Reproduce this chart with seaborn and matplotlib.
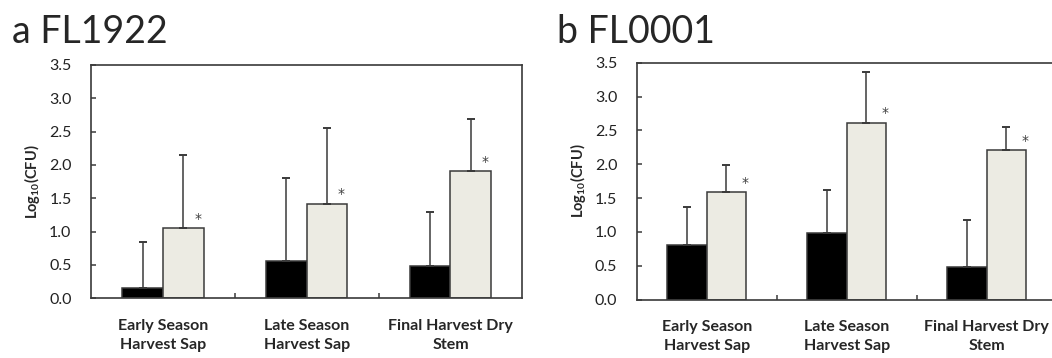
import pandas as pd
import matplotlib
matplotlib.use('Agg')
import matplotlib.pyplot as plt
import seaborn as sns
from matplotlib.ticker import FormatStrFormatter, FixedLocator

# categories and groups
categories = ['Early Season\nHarvest Sap', 'Late Season\nHarvest Sap', 'Final Harvest Dry\nStem']
groups = ['Control', 'Inoculated']

# panel a: FL1922
a_control = [0.15, 0.56, 0.49]
a_control_err = [0.69, 1.24, 0.80]
a_inoc = [1.05, 1.42, 1.91]
a_inoc_err = [1.10, 1.14, 0.78]

# panel b: FL0001
b_control = [0.80, 0.99, 0.48]
b_control_err = [0.57, 0.63, 0.69]
b_inoc = [1.59, 2.61, 2.21]
b_inoc_err = [0.40, 0.75, 0.34]

y_ticks = [0.0, 0.5, 1.0, 1.5, 2.0, 2.5, 3.0, 3.5]

sns.set_theme(style='white')
plt.rcParams['font.family'] = ['Lato', 'DejaVu Sans']
plt.rcParams['mathtext.fontset'] = 'custom'
plt.rcParams['mathtext.rm'] = 'Lato'
plt.rcParams['mathtext.bf'] = 'Lato:bold'

bar_colors = ['#000000', '#EEECE1']
line_col = '#3a3a3a'


def make_df(ctrl, ctrl_err, inoc, inoc_err):
    rows = []
    for i, c in enumerate(categories):
        rows.append({'cat': c, 'group': groups[0], 'val': ctrl[i], 'err': ctrl_err[i]})
        rows.append({'cat': c, 'group': groups[1], 'val': inoc[i], 'err': inoc_err[i]})
    return pd.DataFrame(rows)


def draw_panel(ax, df, star_dx):
    sns.barplot(data=df, x='cat', y='val', hue='group', order=categories, hue_order=groups,
                palette=bar_colors, width=0.565, gap=0, edgecolor=line_col, linewidth=1.1,
                errorbar=None, legend=False, ax=ax)
    # upper error bars and stars, matched to the seaborn bars
    for gi, g in enumerate(groups):
        sub = df[df['group'] == g].set_index('cat').loc[categories]
        bars = ax.patches[gi * len(categories):(gi + 1) * len(categories)]
        for bar, (_, r) in zip(bars, sub.iterrows()):
            xc = bar.get_x() + bar.get_width() / 2
            ax.errorbar(xc, r['val'], yerr=[[0], [r['err']]], fmt='none', ecolor=line_col,
                        elinewidth=1.1, capsize=2.7, capthick=1.4, zorder=1)
            if g == groups[1]:
                ax.text(xc + star_dx, r['val'] + 0.08, '*', ha='center', va='baseline',
                        fontsize=10, color='#404040', family='DejaVu Sans')
    ax.set_ylim(0, 3.5)
    ax.set_xlim(-0.5, 2.5)
    ax.set_yticks(y_ticks)
    ax.yaxis.set_major_formatter(FormatStrFormatter('%.1f'))
    ax.xaxis.set_minor_locator(FixedLocator([0.5, 1.5]))
    ax.tick_params(axis='y', direction='in', length=3.5, width=1.1, color=line_col,
                   labelsize=11.5, pad=14, left=True, labelcolor='#222222')
    ax.tick_params(axis='x', which='major', length=0, pad=15, labelsize=11.5)
    ax.tick_params(axis='x', which='minor', direction='in', length=3.5, width=1.1,
                   color=line_col, bottom=True)
    for lab in ax.get_xticklabels():
        lab.set_fontweight('bold')
        lab.set_linespacing(1.4)
    for s in ax.spines.values():
        s.set_visible(True)
        s.set_color(line_col)
        s.set_linewidth(1.2)
    ax.set_xlabel('')
    ax.set_ylabel(r'Log$_{\mathbf{10}}$(CFU)', fontsize=10.5, fontweight='bold', labelpad=5)


fig = plt.figure(figsize=(10.52, 3.58), dpi=100)
ax_a = fig.add_axes([0.0865, 0.1668, 0.41, 0.6517])
ax_b = fig.add_axes([0.6052, 0.1634, 0.3992, 0.6615])

draw_panel(ax_a, make_df(a_control, a_control_err, a_inoc, a_inoc_err), 0.10)
draw_panel(ax_b, make_df(b_control, b_control_err, b_inoc, b_inoc_err), 0.13)

fig.text(12 / 1052, 1 - 43 / 358, 'a FL1922', fontsize=27, va='baseline', ha='left')
fig.text(557 / 1052, 1 - 43 / 358, 'b FL0001', fontsize=27, va='baseline', ha='left')

fig.savefig('out.png', dpi=100)
